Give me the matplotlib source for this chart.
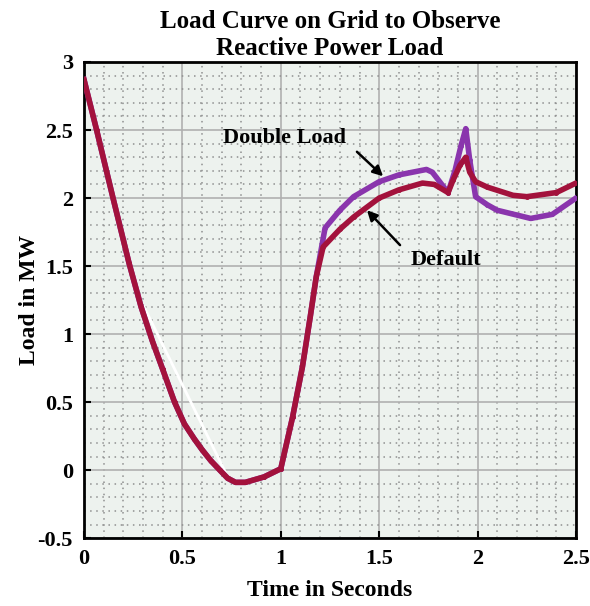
import numpy as np
from matplotlib import pyplot as plt

# Default load curve
tDefault = [0, 0.064, 0.144, 0.229, 0.29, 0.347, 0.40, 0.46, 0.51, 0.56, 0.60, 0.644, 0.69,
            0.73, 0.77, 0.82, 0.915, 1.0, 1.06, 1.11, 1.15, 1.18, 1.215, 1.3, 1.37, 1.5, 1.6,
            1.72, 1.78, 1.85, 1.875, 1.91, 1.94, 1.96, 1.99, 2.05, 2.18, 2.25, 2.4, 2.5]
loadDefault = [2.87, 2.5, 2.02, 1.52, 1.2, 0.95, 0.74, 0.5, 0.34, 0.23, 0.15, 0.07, 0.0,
               -0.06, -0.09, -0.09, -0.05, 0.01, 0.39, 0.76, 1.13, 1.42, 1.64, 1.77, 1.86, 2.0,
               2.06, 2.11, 2.10, 2.04, 2.13, 2.24, 2.30, 2.19, 2.12, 2.08, 2.02, 2.01, 2.04, 2.11]

# Double load curve
tDouble = [0, 0.064, 0.144, 0.229, 0.29, 0.347, 0.40, 0.46, 0.51, 0.56, 0.60, 0.644, 0.69,
           0.73, 0.77, 0.82, 0.915, 1.0, 1.06, 1.11, 1.15, 1.18, 1.225, 1.3, 1.37, 1.5, 1.6,
           1.74, 1.77, 1.85, 1.885, 1.915, 1.94, 1.96, 1.99, 2.05, 2.1, 2.27, 2.38, 2.5]
loadDouble = [2.87, 2.5, 2.02, 1.52, 1.2, 0.95, 0.74, 0.5, 0.34, 0.23, 0.15, 0.07, 0.0,
              -0.06, -0.09, -0.09, -0.05, 0.01, 0.39, 0.76, 1.13, 1.42, 1.78, 1.91, 2.01, 2.12,
              2.17, 2.21, 2.19, 2.04, 2.2, 2.38, 2.51, 2.28, 2.01, 1.95, 1.91, 1.85, 1.88, 2.0]

# the stray white segment visible in the original figure
tWhite = [0.305, 0.73]
loadWhite = [1.2, -0.05]

xTicks = [0, 0.5, 1, 1.5, 2, 2.5]
xTickLabels = ["0", "0.5", "1", "1.5", "2", "2.5"]
yTicks = [-0.5, 0, 0.5, 1, 1.5, 2, 2.5, 3]
yTickLabels = ["-0.5", "0", "0.5", "1", "1.5", "2", "2.5", "3"]

plt.rcParams['font.family'] = ['Liberation Serif', 'DejaVu Serif']
plt.rcParams['font.weight'] = 'bold'

fig = plt.figure(figsize=(5.9, 6.06), dpi=100)
ax = fig.add_axes([0.1424, 0.112, 0.8338, 0.7857])
ax.set_facecolor('#edf2ee')

ax.plot(tWhite, loadWhite, color='white', linewidth=2, zorder=2)
ax.plot(tDouble, loadDouble, color='#8a35ad', linewidth=4, marker='.', markersize=5,
        solid_joinstyle='round', zorder=3)
ax.plot(tDefault, loadDefault, color='#a3123c', linewidth=4, marker='.', markersize=5,
        solid_joinstyle='round', zorder=4)

ax.set_xlim(0, 2.5)
ax.set_ylim(-0.5, 3)
ax.set_xticks(xTicks)
ax.set_xticklabels(xTickLabels)
ax.set_yticks(yTicks)
ax.set_yticklabels(yTickLabels)
ax.set_xticks(np.arange(0, 2.51, 0.1), minor=True)
ax.set_yticks(np.arange(-0.5, 3.01, 0.1), minor=True)
ax.tick_params(which='major', direction='in', length=5, width=1.5, labelsize=16, pad=8)
ax.tick_params(which='minor', length=0)
ax.grid(which='major', color='#b0b0b0', linewidth=1.2, linestyle='-')
ax.grid(which='minor', color='#8f8f8f', linewidth=1.1, linestyle=(0, (1, 3)))
ax.set_axisbelow(True)
for spine in ax.spines.values():
    spine.set_linewidth(2)

ax.set_xlabel("Time in Seconds", fontsize=17, fontweight='bold', labelpad=8)
ax.set_ylabel("Load in MW", fontsize=17, fontweight='bold', labelpad=-2)
ax.set_title("Load Curve on Grid to Observe\nReactive Power Load", fontsize=18,
             fontweight='bold', linespacing=1.25, pad=5)

ax.text(1.02, 2.44, "Double Load", fontsize=16, fontweight='bold', ha='center', va='center')
ax.annotate("", xy=(1.52, 2.16), xytext=(1.387, 2.34),
            arrowprops=dict(arrowstyle='-|>', color='black', lw=1.8,
                            shrinkA=0, shrinkB=0, mutation_scale=15))
ax.text(1.84, 1.544, "Default", fontsize=16, fontweight='bold', ha='center', va='center')
ax.annotate("", xy=(1.438, 1.91), xytext=(1.606, 1.654),
            arrowprops=dict(arrowstyle='-|>', color='black', lw=1.8,
                            shrinkA=0, shrinkB=0, mutation_scale=15))

plt.savefig("out.png", dpi=100)
